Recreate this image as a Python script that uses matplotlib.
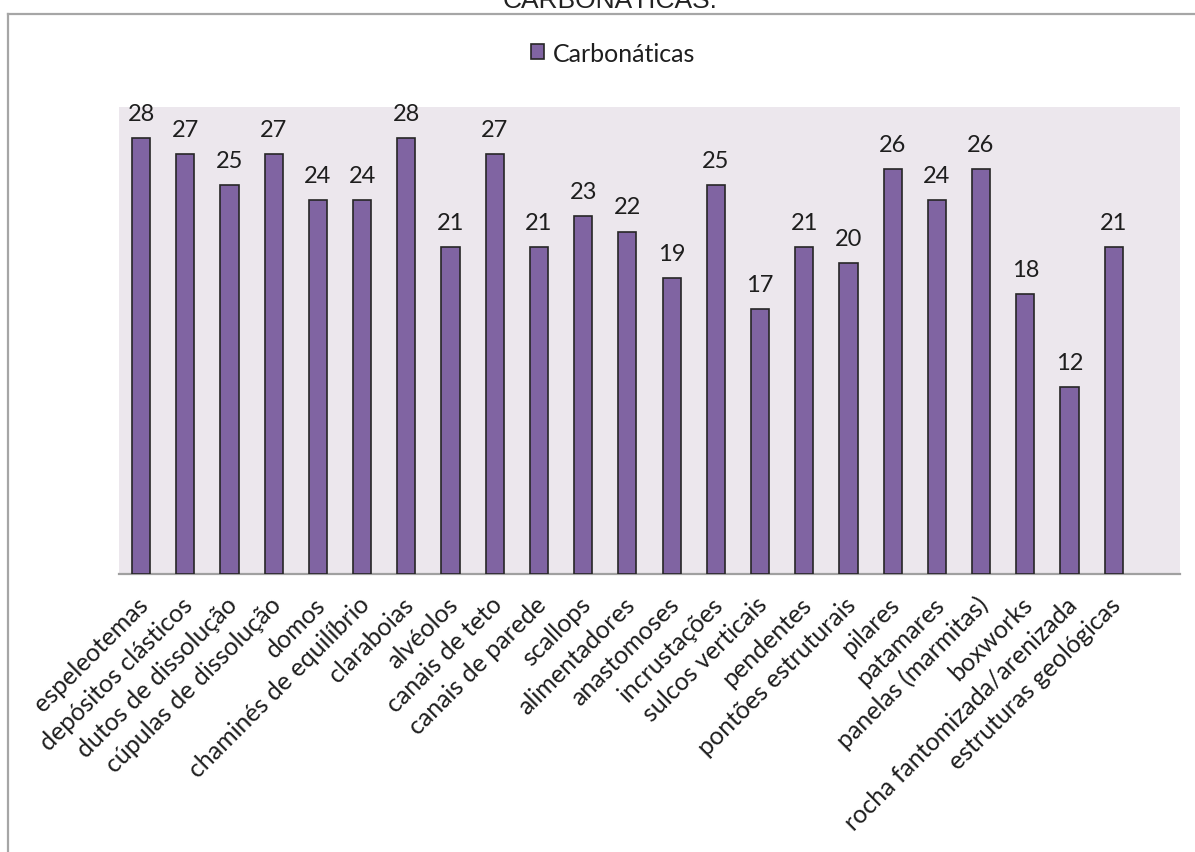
import matplotlib
matplotlib.use("Agg")
import matplotlib.pyplot as plt
from matplotlib.lines import Line2D
from matplotlib.patches import Patch
from matplotlib.transforms import ScaledTranslation

#  Chart data
categories = [
  "espeleotemas", "depósitos clásticos", "dutos de dissolução", "cúpulas de dissolução",
  "domos", "chaminés de equilíbrio", "claraboias", "alvéolos", "canais de teto",
  "canais de parede", "scallops", "alimentadores", "anastomoses", "incrustações",
  "sulcos verticais", "pendentes", "pontões estruturais", "pilares", "patamares",
  "panelas (marmitas)", "boxworks", "rocha fantomizada/arenizada", "estruturas geológicas"
]
values = [28, 27, 25, 27, 24, 24, 28, 21, 27, 21, 23, 22, 19, 25, 17, 21, 20, 26, 24, 26, 18, 12, 21]
series_name = "Carbonáticas"
title = "CARBONÁTICAS."

W, H = 1195, 853
plt.rcParams["font.family"] = ["Lato", "DejaVu Sans"]

fig = plt.figure( figsize = ( W / 100, H / 100 ), dpi = 100 )
fig.patch.set_facecolor( "white" )

#  Plot area, in pixels from the top-left corner
left, right, top, bottom = 119, 1180, 108, 575
ax = fig.add_axes( [ left / W, 1 - bottom / H, ( right - left ) / W, ( bottom - top ) / H ] )
ax.set_facecolor( "#ECE7ED" )

x = list( range( len( categories ) ) )
bars = ax.bar( x, values, width = 0.41, color = "#8064A2", edgecolor = "#262626", linewidth = 1.2, zorder = 3 )

#  Value labels above the bars
for xi, v in zip( x, values ):
  ax.annotate( str( v ), ( xi, v ), xytext = ( 0, 13 ), textcoords = "offset points",
               ha = "center", va = "baseline", fontsize = 17, color = "#1e1e1e" )

ax.set_xlim( -0.5, len( categories ) + 0.5 )
ax.set_ylim( 0, 30 )

for name in [ "left", "right", "top" ]:
  ax.spines[ name ].set_visible( False )
ax.spines[ "bottom" ].set_color( "#A0A0A0" )
ax.spines[ "bottom" ].set_linewidth( 1.6 )
ax.get_yaxis().set_visible( False )

ax.set_xticks( x )
ax.set_xticklabels( categories, rotation = 45, ha = "right", va = "center",
                    rotation_mode = "anchor", fontsize = 18, color = "#1e1e1e" )
ax.tick_params( axis = "x", length = 0, pad = 19 )
#  Nudge labels a little to the right so their ends sit just past the bar centre
shift = ScaledTranslation( 2.5 / 72, 0, fig.dpi_scale_trans )
for lab in ax.get_xticklabels():
  lab.set_transform( lab.get_transform() + shift )

#  Legend
handle = Patch( facecolor = "#8064A2", edgecolor = "#262626", linewidth = 1.2 )
fig.legend( [ handle ], [ series_name ], loc = "center", bbox_to_anchor = ( 613 / W, 1 - 54 / H ),
            frameon = False, fontsize = 18, handlelength = 0.55, handleheight = 0.55,
            handletextpad = 0.35, labelcolor = "#1e1e1e" )

#  Title, cut off at the top edge like in the source
fig.text( 610 / W, 1 - 8 / H, title, ha = "center", va = "baseline",
          fontsize = 19, family = "Liberation Sans", color = "#222222" )

#  Outer frame (left and top edges only are visible)
frame_c = "#A6A6A6"
fig.add_artist( Line2D( [ 8 / W, 8 / W ], [ 0, 1 - 15 / H ], color = frame_c, lw = 1.6 ) )
fig.add_artist( Line2D( [ 8 / W, 1 ], [ 1 - 15 / H, 1 - 15 / H ], color = frame_c, lw = 1.6 ) )

fig.savefig( "out.png", dpi = 100 )
